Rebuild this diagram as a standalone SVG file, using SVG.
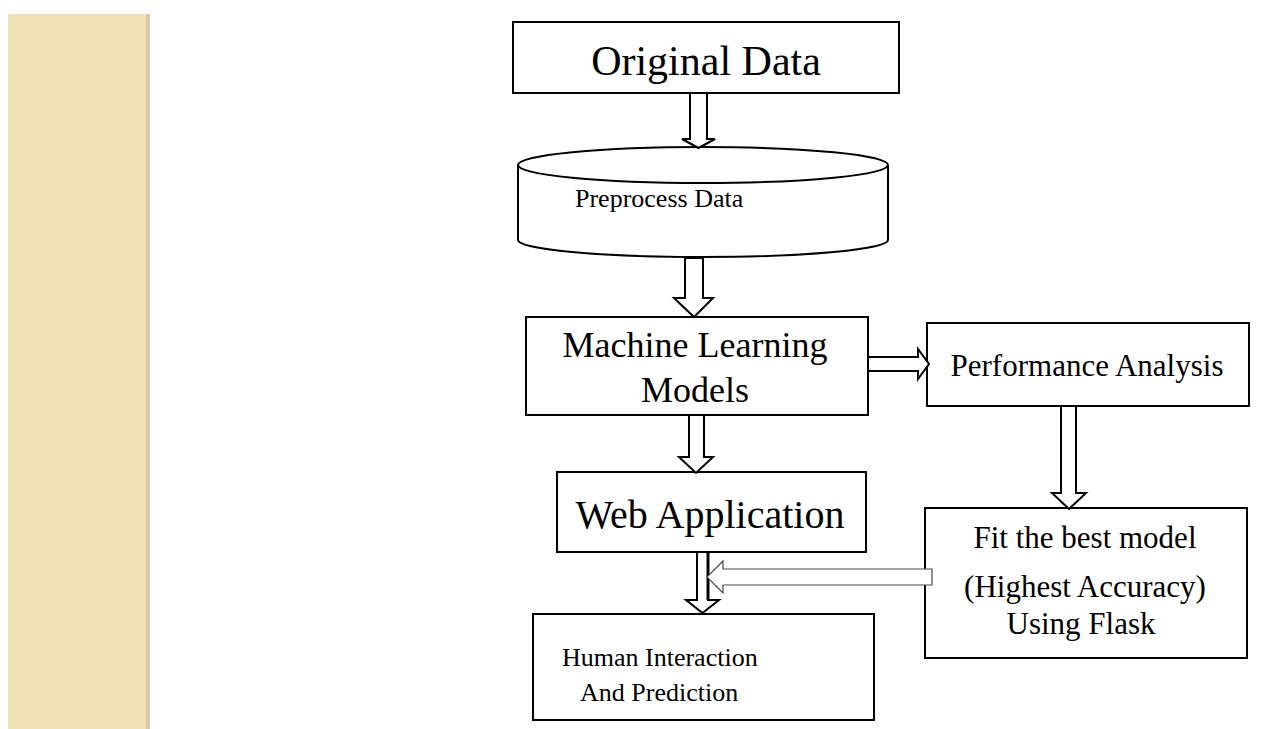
<svg xmlns="http://www.w3.org/2000/svg" width="1274" height="729" viewBox="0 0 1274 729">
<defs>
<style>
.box{fill:#fff;stroke:#000;stroke-width:2}
.arr{fill:#fff;stroke:#000;stroke-width:2;stroke-linejoin:miter}
.thin{fill:#fff;stroke:#4a4a4a;stroke-width:1.2}
.t{font-family:"Liberation Serif","Times New Roman",serif;fill:#000}
</style>
</defs>
<rect x="0" y="0" width="1274" height="729" fill="#fff"/>
<g id="sidebar">
<rect x="8" y="14" width="142" height="715" fill="#F0E0B8"/>
<rect x="146" y="14" width="4" height="715" fill="#DCCBA2"/>
</g>
<g id="node-original">
<rect class="box" x="513" y="22" width="386" height="71"/>
<text class="t" x="706" y="75" font-size="42" text-anchor="middle">Original Data</text>
</g>
<g id="node-preprocess">
<path class="box" d="M518,165 A185,18 0 0 1 888,165 L888,240 A185,17 0 0 1 518,240 Z"/>
<path d="M518,165 A185,18 0 0 0 888,165" fill="none" stroke="#000" stroke-width="2"/>
<text class="t" x="575" y="207" font-size="26">Preprocess Data</text>
</g>
<g id="node-ml">
<rect class="box" x="526" y="317" width="342" height="98"/>
<text class="t" x="695" y="357" font-size="36" text-anchor="middle">Machine Learning</text>
<text class="t" x="695" y="402" font-size="36" text-anchor="middle">Models</text>
</g>
<g id="node-web">
<rect class="box" x="557" y="472" width="309" height="80"/>
<text class="t" x="710" y="528" font-size="40" text-anchor="middle">Web Application</text>
</g>
<g id="node-perf">
<rect class="box" x="927" y="323" width="322" height="83"/>
<text class="t" x="1087" y="376" font-size="31" text-anchor="middle">Performance Analysis</text>
</g>
<g id="node-fit">
<rect class="box" x="925" y="508" width="322" height="150"/>
<text class="t" x="1085" y="548" font-size="31" text-anchor="middle">Fit the best model</text>
<text class="t" x="1085" y="597" font-size="31" text-anchor="middle">(Highest Accuracy)</text>
<text class="t" x="1081" y="634" font-size="31" text-anchor="middle">Using Flask</text>
</g>
<g id="node-human">
<rect class="box" x="533" y="614" width="341" height="106"/>
<text class="t" x="562" y="666" font-size="26">Human Interaction</text>
<text class="t" x="580" y="701" font-size="26">And Prediction</text>
</g>
<g id="connectors">
<polygon class="arr" points="690,93 707,93 707,139 715,139 698.5,148 682,139 690,139"/>
<polygon class="arr" points="685,258 703,258 703,298 713,298 694,317 674,298 685,298"/>
<polygon class="arr" points="689,415 704,415 704,457 713,457 696,473 679,457 689,457"/>
<polygon class="arr" points="868,357 918,357 918,349 929,364 918,379 918,371 868,371"/>
<polygon class="arr" points="1061,406 1076,406 1076,493 1086,493 1069,509 1052,493 1061,493"/>
<polygon class="arr" points="697,552 708,552 708,600 719,600 702.5,613 686,600 697,600"/>
<line x1="708" y1="553" x2="708" y2="600" stroke="#000" stroke-width="3"/>
<polygon class="thin" points="932,569 723,569 723,561 707,577 723,593 723,585 932,585"/>
</g>
</svg>
